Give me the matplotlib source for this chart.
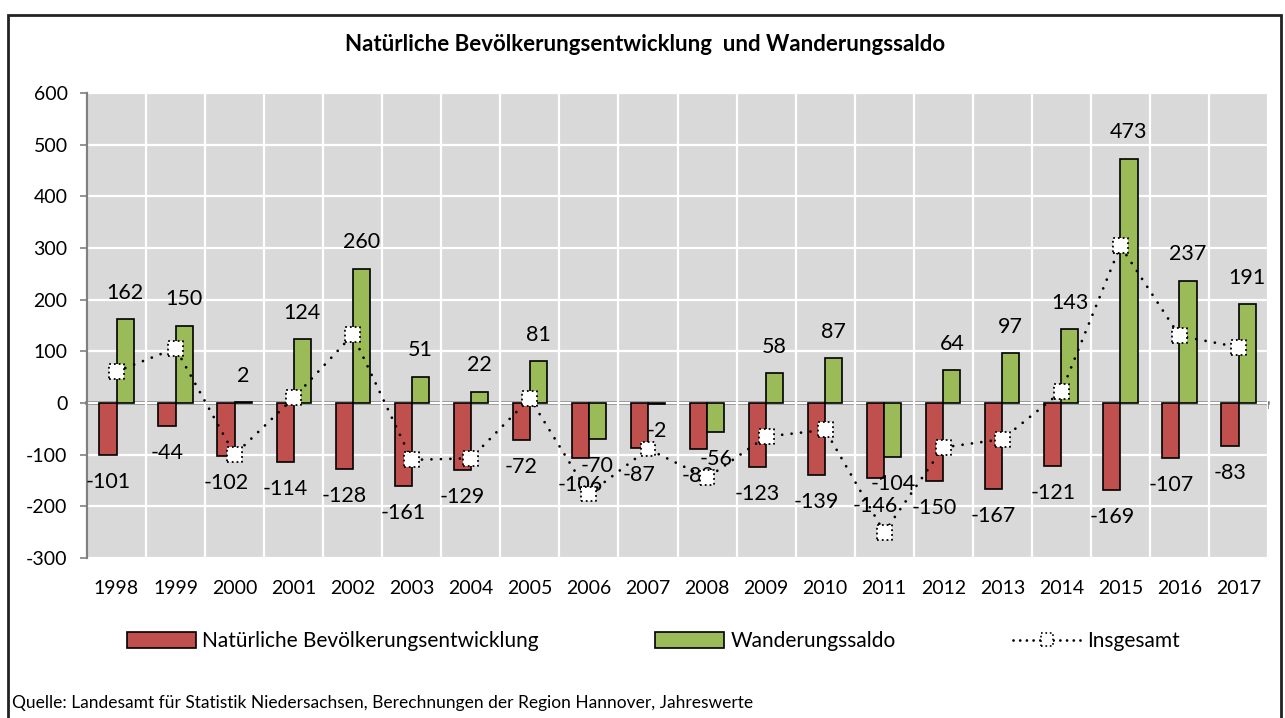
import matplotlib

matplotlib.use("Agg")
import matplotlib.pyplot as plt  # noqa: E402
from matplotlib.legend_handler import HandlerTuple  # noqa: E402
from matplotlib.lines import Line2D  # noqa: E402
from matplotlib.patches import Patch, Rectangle  # noqa: E402

YEARS = ["1998", "1999", "2000", "2001", "2002", "2003", "2004", "2005", "2006", "2007",
         "2008", "2009", "2010", "2011", "2012", "2013", "2014", "2015", "2016", "2017"]
NATUERLICH = [-101, -44, -102, -114, -128, -161, -129, -72, -106, -87,
              -89, -123, -139, -146, -150, -167, -121, -169, -107, -83]
WANDERUNG = [162, 150, 2, 124, 260, 51, 22, 81, -70, -2,
             -56, 58, 87, -104, 64, 97, 143, 473, 237, 191]
INSGESAMT = [61, 106, -100, 10, 132, -110, -107, 9, -176, -89,
             -145, -65, -52, -250, -86, -70, 22, 304, 130, 108]
Y_TICKS = [-300, -200, -100, 0, 100, 200, 300, 400, 500, 600]

RED = "#C0504D"
GREEN = "#9BBB59"
BG = "#D9D9D9"
AXIS_GREY = "#808080"
DOTS = (0, (0.01, 3.4))

plt.rcParams["font.family"] = ["Lato", "DejaVu Sans"]
plt.rcParams["axes.unicode_minus"] = False

fig = plt.figure(figsize=(12.85, 7.18), dpi=100)
ax = fig.add_axes([0.0677, 0.2228, 0.9191, 0.6477])
ax.set_facecolor(BG)

x = list(range(len(YEARS)))
w = 0.29
xr = [i - w / 2 for i in x]
xg = [i + w / 2 for i in x]

ax.bar(xr, NATUERLICH, width=w, color=RED, edgecolor="black", linewidth=1.2, zorder=2)
ax.bar(xg, WANDERUNG, width=w, color=GREEN, edgecolor="black", linewidth=1.2, zorder=2)

# data labels, outside end of each bar
for xs, vals in ((xr, NATUERLICH), (xg, WANDERUNG)):
    for xi, v in zip(xs, vals):
        off = 19 if v >= 0 else -19.5
        ax.annotate(str(v), (xi, v), xytext=(0, off), textcoords="offset points",
                    ha="center", va="center", fontsize=15.5, zorder=3)

# Insgesamt: dotted line + white squares with dotted edge
ax.plot(x, INSGESAMT, color="black", linewidth=2.0, linestyle=DOTS,
        dash_capstyle="round", zorder=4)
ax.scatter(x, INSGESAMT, marker="s", s=115, facecolor="white", edgecolor="black",
           linewidth=1.3, linestyles=":", zorder=5)

ax.set_xlim(-0.5, len(YEARS) - 0.5)
ax.set_ylim(-300, 600)
ax.set_yticks(Y_TICKS)
ax.set_xticks(x)
ax.set_xticklabels(YEARS)

# gridlines at category boundaries and every 100
for b in range(len(YEARS) + 1):
    ax.axvline(b - 0.5, color="white", linewidth=1.6, zorder=1)
ax.yaxis.grid(True, color="white", linewidth=1.6, zorder=1)
ax.set_axisbelow(True)

for s in ("top", "right", "bottom"):
    ax.spines[s].set_visible(False)
ax.spines["left"].set_color(AXIS_GREY)
ax.spines["left"].set_linewidth(1.6)
ax.tick_params(axis="y", labelsize=14, length=5, color=AXIS_GREY, width=1.2, pad=9)
ax.tick_params(axis="x", labelsize=14, length=0, pad=16)

# category axis crossing at zero
zero = ax.secondary_xaxis(1 / 3)
zero.set_xticks([b - 0.5 for b in range(len(YEARS) + 1)])
zero.set_xticklabels([])
zero.spines["bottom"].set_color(AXIS_GREY)
zero.spines["bottom"].set_linewidth(2.6)
zero.tick_params(axis="x", length=4, color=AXIS_GREY, width=1.2, direction="out")

fig.text(0.502, 0.938, "Natürliche Bevölkerungsentwicklung  und Wanderungssaldo",
         ha="center", va="center", fontsize=16, fontweight="bold")

# legend entries placed one by one
line_handle = Line2D([], [], color="black", linewidth=2.0, linestyle=(0, (0.01, 2.4)),
                     dash_capstyle="round")
marker_handle = ax.scatter([], [], marker="s", s=80, facecolor="white", edgecolor="black",
                           linewidth=1.2, linestyles=":")
legend_items = [
    (Patch(facecolor=RED, edgecolor="black", linewidth=1.2), "Natürliche Bevölkerungsentwicklung", 0.099),
    (Patch(facecolor=GREEN, edgecolor="black", linewidth=1.2), "Wanderungssaldo", 0.510),
    ((line_handle, marker_handle), "Insgesamt", 0.788),
]
for handle, label, xpos in legend_items:
    fig.legend([handle], [label], loc="center left", bbox_to_anchor=(xpos, 0.107),
               frameon=False, fontsize=15, handlelength=3.3, handleheight=0.75,
               handletextpad=0.3, borderpad=0, borderaxespad=0,
               scatterpoints=1, scatteryoffsets=[0.5],
               handler_map={tuple: HandlerTuple(ndivide=1)})

fig.text(0.0095, 0.021,
         "Quelle: Landesamt für Statistik Niedersachsen, Berechnungen der Region Hannover, Jahreswerte",
         ha="left", va="center", fontsize=12.5)

fig.patches.append(Rectangle((8 / 1285, -0.05), 1273 / 1285, 1.05 - 15 / 718,
                             transform=fig.transFigure, fill=False,
                             edgecolor="#222222", linewidth=2, zorder=0))

fig.savefig("out.png", dpi=100)
